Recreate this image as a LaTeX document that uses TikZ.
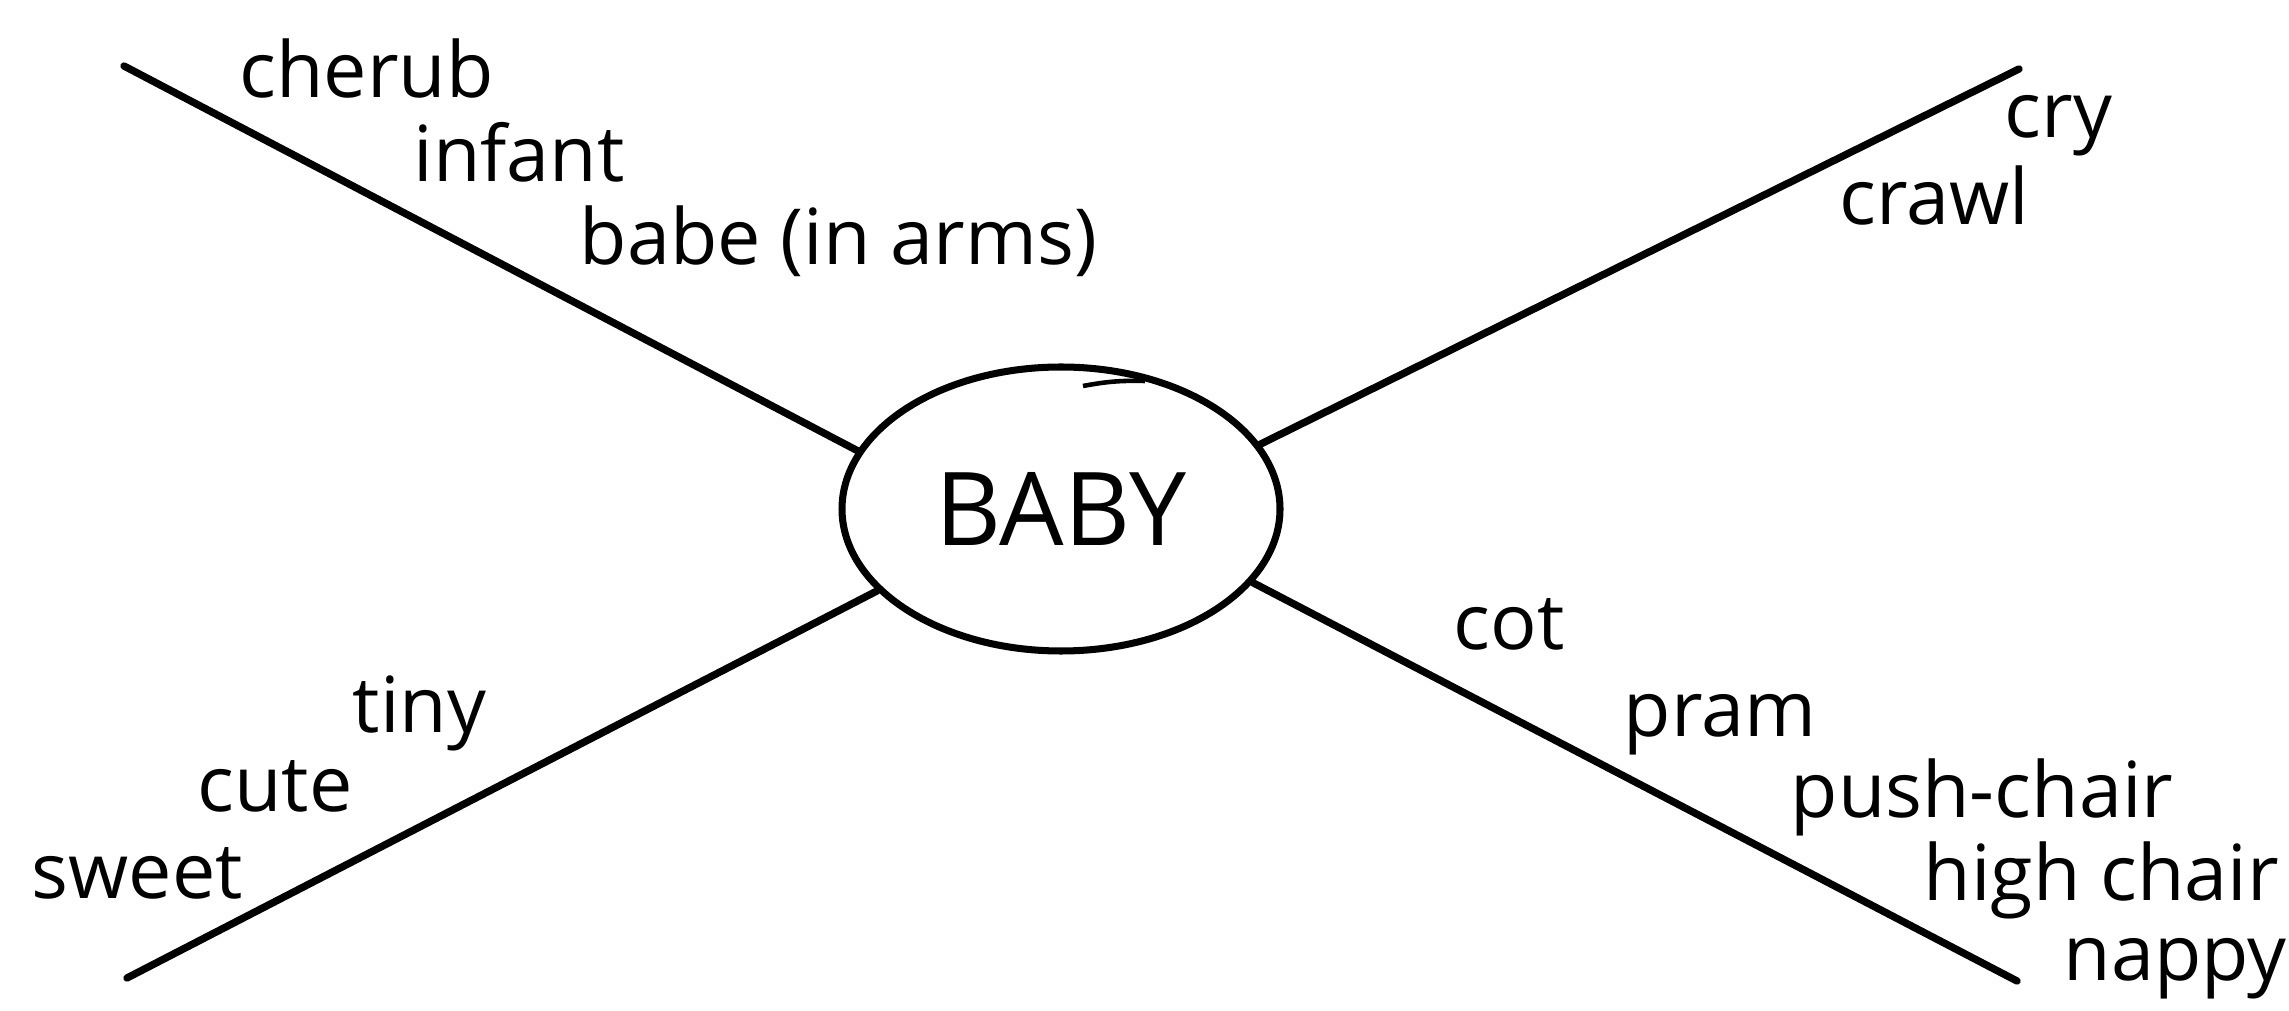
\documentclass[tikz,border=0pt]{standalone}
\usepackage{fontspec}
\setmainfont{Open Sans}
\usepackage{tikz}
\usetikzlibrary{shapes.geometric}
\definecolor{ink}{HTML}{000000}
\tikzset{hub/.style={draw=ink,ellipse,line width=2pt,minimum width=4.38cm,minimum height=2.84cm,inner sep=0pt,font=\fontsize{29}{30}\selectfont},branch/.style={draw=ink,line width=2.1pt,line cap=round},word/.style={anchor=base west,inner sep=0pt,font=\fontsize{22}{24}\selectfont}}

\begin{document}
\begin{tikzpicture}
\useasboundingbox (0,0) rectangle (22.89,10.10);
\node[hub] (baby) at (10.61,5.01) {BABY};
\coordinate (nw) at (1.24,9.44);
\coordinate (ne) at (20.19,9.41);
\coordinate (sw) at (1.27,0.32);
\coordinate (se) at (20.17,0.29);
\draw[branch] (nw) -- (baby.164);
\draw[branch] (ne) -- (baby.18);
\draw[branch] (sw) -- (baby.204);
\draw[branch] (se) -- (baby.339);
\draw[draw=ink,line width=1.3pt] (10.83,6.24) to[bend left=6] (11.45,6.29);
\node[word] (cherub) at (2.39,9.12) {cherub};
\node[word] (infant) at (4.13,8.28) {infant};
\node[word] (babe) at (5.79,7.45) {babe (in arms)};
\node[word] (cry) at (20.04,8.72) {cry};
\node[word] (crawl) at (18.39,7.85) {crawl};
\node[word] (tiny) at (3.52,2.78) {tiny};
\node[word] (cute) at (1.97,1.98) {cute};
\node[word] (sweet) at (0.31,1.12) {sweet};
\node[word] (cot) at (14.53,3.60) {cot};
\node[word] (pram) at (16.23,2.73) {pram};
\node[word] (pushchair) at (17.90,1.93) {push-chair};
\node[word] (highchair) at (19.23,1.10) {high chair};
\node[word] (nappy) at (20.63,0.30) {nappy};
\end{tikzpicture}
\end{document}
